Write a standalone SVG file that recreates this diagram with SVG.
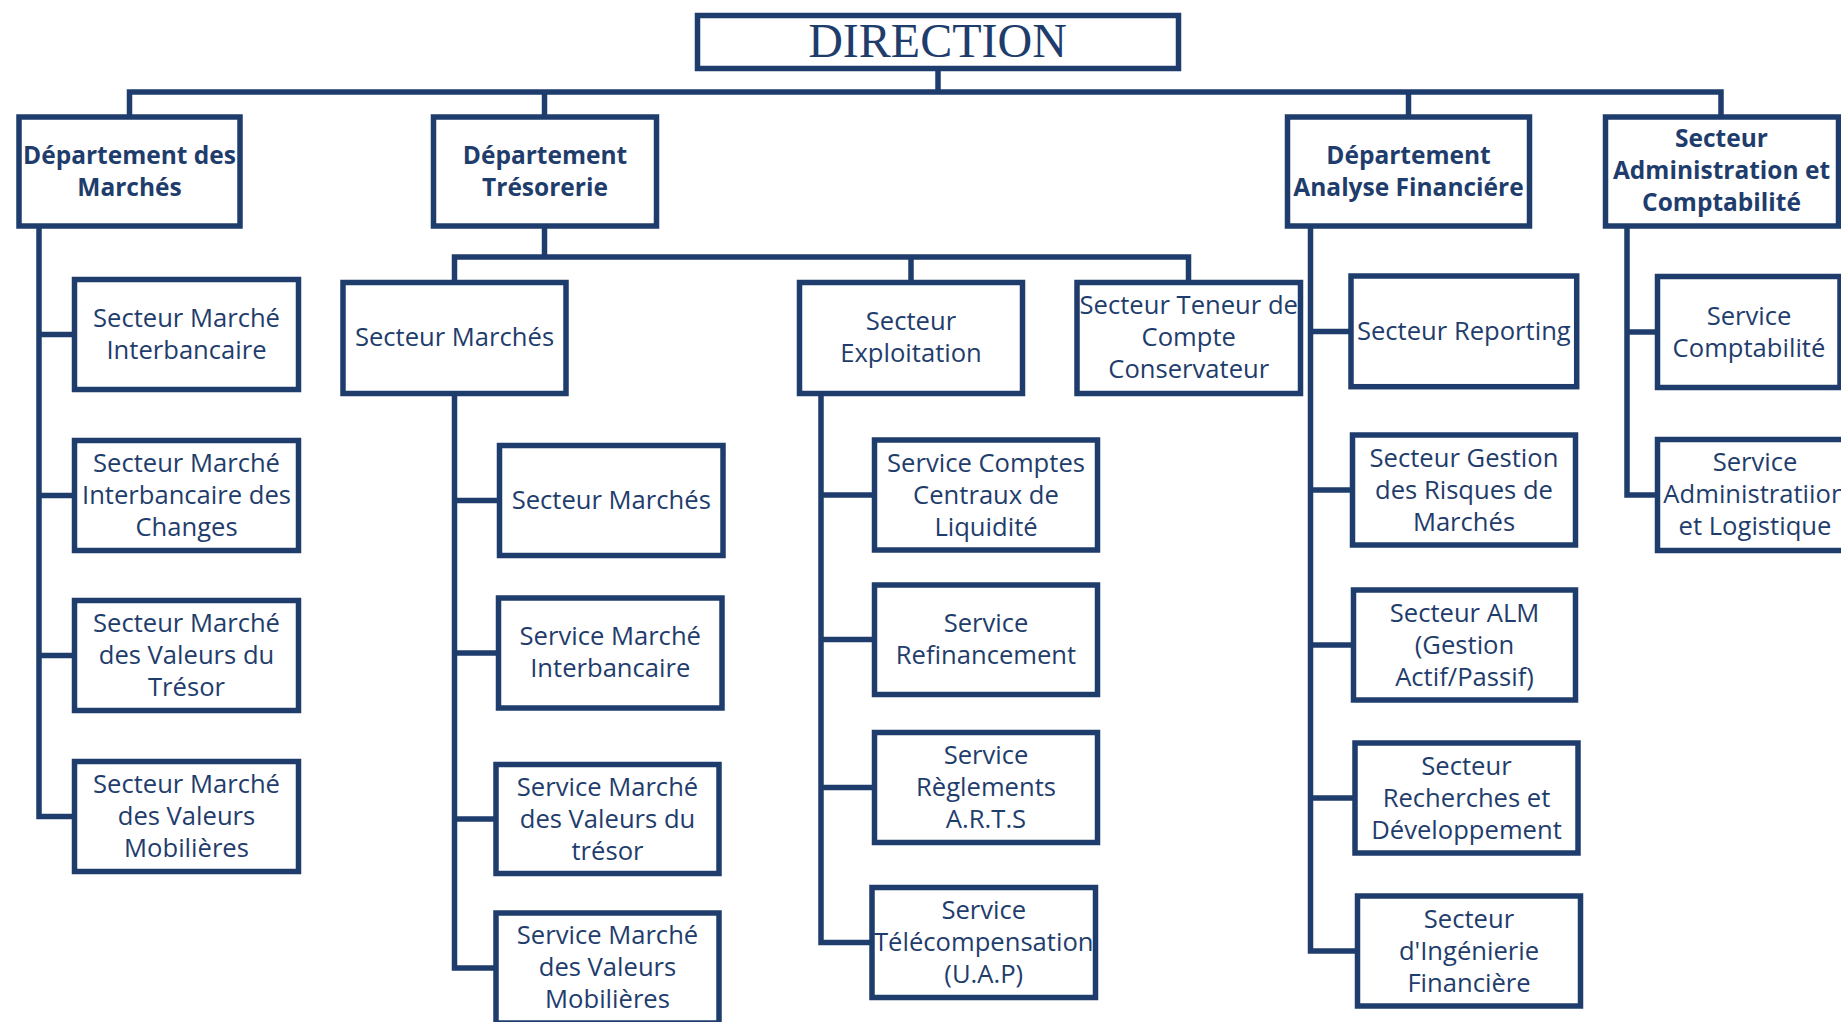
<svg xmlns="http://www.w3.org/2000/svg" width="1841" height="1022" viewBox="0 0 1841 1022">
<style>
.box{fill:#ffffff;stroke:#1f3d6c;stroke-width:5.5}
.ln{fill:none;stroke:#1f3d6c;stroke-width:5.5;stroke-linejoin:miter;stroke-linecap:butt}
.t{font-family:"Open Sans","Noto Sans","DejaVu Sans",sans-serif;font-size:25.6px;fill:#1f3d6c;text-anchor:middle}
.b{font-family:"Open Sans","Noto Sans","DejaVu Sans",sans-serif;font-size:24.5px;font-weight:bold;fill:#1f3d6c;text-anchor:middle}
.dir{font-family:"Liberation Serif","Times New Roman",serif;font-size:48px;fill:#1f3d6c;text-anchor:middle}
</style>
<rect x="0" y="0" width="1841" height="1022" fill="#ffffff"/>
<g id="connectors">
<path class="ln" d="M938 68 V92"/>
<path class="ln" d="M129.5 117 V92 H1721 V117"/>
<path class="ln" d="M544.5 92 V117"/>
<path class="ln" d="M1408.5 92 V117"/>
<path class="ln" d="M39 226 V816.5 H74.5"/>
<path class="ln" d="M39 334.5 H74.5 M39 495.5 H74.5 M39 655.5 H74.5"/>
<path class="ln" d="M544.5 226 V257"/>
<path class="ln" d="M454.5 282.5 V257 H1188.5 V280"/>
<path class="ln" d="M911 257 V282.5"/>
<path class="ln" d="M454.5 393 V968 H496"/>
<path class="ln" d="M454.5 500.5 H499.5 M454.5 653 H498.5 M454.5 819 H496"/>
<path class="ln" d="M821 393 V942.5 H872"/>
<path class="ln" d="M821 495 H874.5 M821 639.5 H874.5 M821 787.5 H874.5"/>
<path class="ln" d="M1310.5 226 V951 H1357.5"/>
<path class="ln" d="M1310.5 331.5 H1351 M1310.5 490 H1352.5 M1310.5 645 H1353.5 M1310.5 798 H1355"/>
<path class="ln" d="M1627 226 V495 H1657.5"/>
<path class="ln" d="M1627 332 H1657.5"/>
</g>
<g id="direction">
<rect class="box" x="697.5" y="15.5" width="481" height="53"/>
<text class="dir" x="937.5" y="56.5">DIRECTION</text>
</g>
<g id="dept-marches">
<rect class="box" x="19" y="117" width="221" height="109"/>
<text class="b" x="129.5" y="164">Département des</text>
<text class="b" x="129.5" y="196">Marchés</text>
</g>
<g id="dept-tresorerie">
<rect class="box" x="433.5" y="117" width="223" height="109"/>
<text class="b" x="545" y="164">Département</text>
<text class="b" x="545" y="196">Trésorerie</text>
</g>
<g id="dept-analyse">
<rect class="box" x="1287.5" y="117" width="242" height="109"/>
<text class="b" x="1408.5" y="164">Département</text>
<text class="b" x="1408.5" y="196">Analyse Financiére</text>
</g>
<g id="secteur-admin">
<rect class="box" x="1605.5" y="117" width="233" height="109"/>
<text class="b" x="1721.5" y="147">Secteur</text>
<text class="b" x="1721.5" y="179">Administration et</text>
<text class="b" x="1721.5" y="211">Comptabilité</text>
</g>
<g id="sm-interbancaire">
<rect class="box" x="74.5" y="279.5" width="224" height="110"/>
<text class="t" x="186.5" y="327">Secteur Marché</text>
<text class="t" x="186.5" y="359">Interbancaire</text>
</g>
<g id="sm-changes">
<rect class="box" x="74.5" y="440.5" width="224" height="110"/>
<text class="t" x="186.5" y="472">Secteur Marché</text>
<text class="t" x="186.5" y="504">Interbancaire des</text>
<text class="t" x="186.5" y="536">Changes</text>
</g>
<g id="sm-tresor">
<rect class="box" x="74.5" y="600.5" width="224" height="110"/>
<text class="t" x="186.5" y="632">Secteur Marché</text>
<text class="t" x="186.5" y="664">des Valeurs du</text>
<text class="t" x="186.5" y="696">Trésor</text>
</g>
<g id="sm-mobilieres">
<rect class="box" x="74.5" y="761.5" width="224" height="110"/>
<text class="t" x="186.5" y="793">Secteur Marché</text>
<text class="t" x="186.5" y="825">des Valeurs</text>
<text class="t" x="186.5" y="857">Mobilières</text>
</g>
<g id="secteur-marches">
<rect class="box" x="343" y="282.5" width="223" height="111"/>
<text class="t" x="454.5" y="346">Secteur Marchés</text>
</g>
<g id="secteur-exploitation">
<rect class="box" x="799.5" y="282.5" width="223" height="111"/>
<text class="t" x="911" y="330">Secteur</text>
<text class="t" x="911" y="362">Exploitation</text>
</g>
<g id="secteur-teneur">
<rect class="box" x="1077" y="282.5" width="223.5" height="111"/>
<text class="t" x="1188.75" y="313.5">Secteur Teneur de</text>
<text class="t" x="1188.75" y="345.5">Compte</text>
<text class="t" x="1188.75" y="377.5">Conservateur</text>
</g>
<g id="sm2-marches">
<rect class="box" x="499.5" y="445.5" width="223.5" height="110"/>
<text class="t" x="611.25" y="508.5">Secteur Marchés</text>
</g>
<g id="svc-interbancaire">
<rect class="box" x="498.5" y="598" width="223.5" height="110"/>
<text class="t" x="610.25" y="645">Service Marché</text>
<text class="t" x="610.25" y="677">Interbancaire</text>
</g>
<g id="svc-tresor">
<rect class="box" x="496" y="764.5" width="223" height="109"/>
<text class="t" x="607.5" y="795.5">Service Marché</text>
<text class="t" x="607.5" y="827.5">des Valeurs du</text>
<text class="t" x="607.5" y="859.5">trésor</text>
</g>
<g id="svc-mobilieres">
<rect class="box" x="496" y="913" width="223" height="110"/>
<text class="t" x="607.5" y="943.5">Service Marché</text>
<text class="t" x="607.5" y="975.5">des Valeurs</text>
<text class="t" x="607.5" y="1007.5">Mobilières</text>
</g>
<g id="svc-comptes">
<rect class="box" x="874.5" y="440" width="223" height="110"/>
<text class="t" x="986" y="471.5">Service Comptes</text>
<text class="t" x="986" y="503.5">Centraux de</text>
<text class="t" x="986" y="535.5">Liquidité</text>
</g>
<g id="svc-refinancement">
<rect class="box" x="874.5" y="585" width="223" height="109.5"/>
<text class="t" x="986" y="632">Service</text>
<text class="t" x="986" y="664">Refinancement</text>
</g>
<g id="svc-reglements">
<rect class="box" x="874.5" y="732.5" width="223" height="110"/>
<text class="t" x="986" y="764">Service</text>
<text class="t" x="986" y="796">Règlements</text>
<text class="t" x="986" y="828">A.R.T.S</text>
</g>
<g id="svc-telecompensation">
<rect class="box" x="872" y="887.5" width="223.5" height="110"/>
<text class="t" x="983.75" y="919">Service</text>
<text class="t" x="983.75" y="951">Télécompensation</text>
<text class="t" x="983.75" y="983">(U.A.P)</text>
</g>
<g id="sect-reporting">
<rect class="box" x="1351" y="276" width="225.7" height="110.7"/>
<text class="t" x="1463.85" y="340">Secteur Reporting</text>
</g>
<g id="sect-risques">
<rect class="box" x="1352.5" y="435" width="223" height="110"/>
<text class="t" x="1464" y="466.5">Secteur Gestion</text>
<text class="t" x="1464" y="498.5">des Risques de</text>
<text class="t" x="1464" y="530.5">Marchés</text>
</g>
<g id="sect-alm">
<rect class="box" x="1353.5" y="590" width="222" height="110"/>
<text class="t" x="1464.5" y="621.5">Secteur ALM</text>
<text class="t" x="1464.5" y="653.5">(Gestion</text>
<text class="t" x="1464.5" y="685.5">Actif/Passif)</text>
</g>
<g id="sect-recherches">
<rect class="box" x="1355" y="743" width="223" height="110"/>
<text class="t" x="1466.5" y="774.5">Secteur</text>
<text class="t" x="1466.5" y="806.5">Recherches et</text>
<text class="t" x="1466.5" y="838.5">Développement</text>
</g>
<g id="sect-ingenierie">
<rect class="box" x="1357.5" y="896" width="223" height="110"/>
<text class="t" x="1469" y="927.5">Secteur</text>
<text class="t" x="1469" y="959.5">d'Ingénierie</text>
<text class="t" x="1469" y="991.5">Financière</text>
</g>
<g id="svc-comptabilite">
<rect class="box" x="1657.5" y="276.5" width="182.5" height="111"/>
<text class="t" x="1749" y="324.5">Service</text>
<text class="t" x="1749" y="356.5">Comptabilité</text>
</g>
<g id="svc-administration">
<rect class="box" x="1657.5" y="439.5" width="200" height="111"/>
<text class="t" x="1755" y="471">Service</text>
<text class="t" x="1755" y="503">Administratiion</text>
<text class="t" x="1755" y="535">et Logistique</text>
</g>
</svg>
